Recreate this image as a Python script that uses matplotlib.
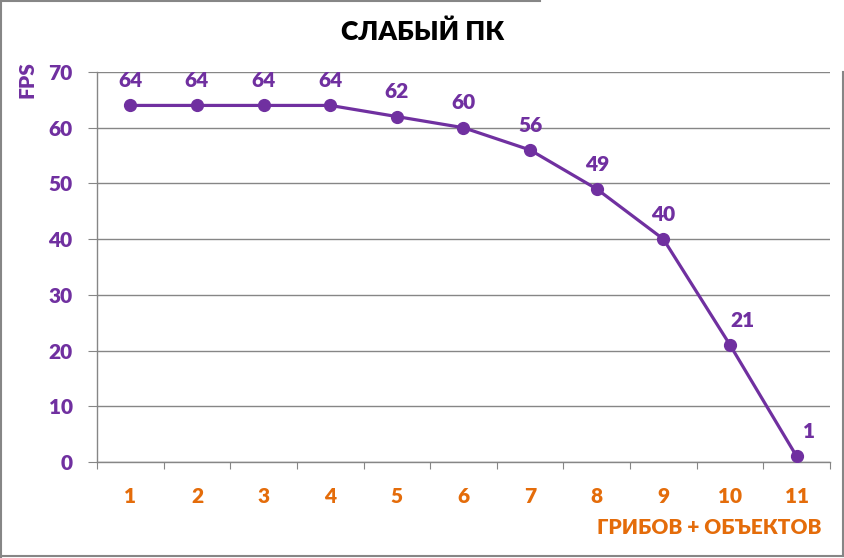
import matplotlib.pyplot as plt
from matplotlib.lines import Line2D

# chart data
categories = ['1', '2', '3', '4', '5', '6', '7', '8', '9', '10', '11']
fps = [64, 64, 64, 64, 62, 60, 56, 49, 40, 21, 1]
y_ticks = [0, 10, 20, 30, 40, 50, 60, 70]

purple = '#7030A0'
orange = '#E46C0A'
grid_col = '#868686'
bold = 'heavy'

plt.rcParams['font.family'] = ['Lato', 'DejaVu Sans']

fig = plt.figure(figsize=(8.45, 5.58), dpi=100)
ax = fig.add_axes([97 / 845, 1 - 462 / 558, 733 / 845, 390 / 558])

x = list(range(len(categories)))
ax.plot(x, fps, color=purple, lw=2.3, marker='o', ms=8.5, zorder=3)
for xi, v in zip(x, fps):
    # the last two labels are nudged right, as in the original
    dx = 9 if xi >= len(categories) - 2 else 0
    ax.annotate(str(v), (xi, v), xytext=(dx, 11), textcoords='offset points',
                ha='center', va='bottom', color=purple, fontsize=15, fontweight=bold)

ax.set_xlim(-0.5, len(categories) - 0.5)
ax.set_ylim(0, 70)
ax.set_yticks(y_ticks)
ax.set_yticklabels([str(t) for t in y_ticks])
ax.yaxis.grid(True, color=grid_col, lw=1)
ax.set_axisbelow(True)

# x ticks between categories, labels at centers
ax.set_xticks([i - 0.5 for i in range(len(categories) + 1)])
ax.set_xticklabels([])
ax.set_xticks(x, minor=True)
ax.set_xticklabels(categories, minor=True)
ax.tick_params(axis='x', which='major', length=5, color=grid_col, direction='out')
ax.tick_params(axis='x', which='minor', length=0, pad=18, labelsize=15,
               labelcolor=orange)
for lab in ax.get_xticklabels(minor=True):
    lab.set_fontweight(bold)
ax.tick_params(axis='y', length=6.5, color=grid_col, pad=11, labelsize=15,
               labelcolor=purple)
for lab in ax.get_yticklabels():
    lab.set_fontweight(bold)

for s in ['top', 'right']:
    ax.spines[s].set_visible(False)
for s in ['left', 'bottom']:
    ax.spines[s].set_color(grid_col)
    ax.spines[s].set_linewidth(1)

fig.text(423 / 845, 1 - 32 / 558, 'СЛАБЫЙ ПК', ha='center', va='center',
         fontsize=19, fontweight=bold, color='black')
fig.text(27 / 845, 1 - 80 / 558, 'FPS', ha='center', va='center', rotation=90,
         fontsize=15, fontweight=bold, color=purple)
fig.text(822 / 845, 1 - 527 / 558, 'ГРИБОВ + ОБЪЕКТОВ', ha='right', va='center',
         fontsize=15, fontweight=bold, color=orange)

# outer frame pieces
fr = dict(color=grid_col, lw=1.5, transform=fig.transFigure)
fig.add_artist(Line2D([0.001, 540 / 845], [1 - 1 / 558, 1 - 1 / 558], **fr))
fig.add_artist(Line2D([0.001, 0.001], [1 - 1 / 558, 1 / 558], **fr))
fig.add_artist(Line2D([0.001, 843 / 845], [2 / 558, 2 / 558], **fr))
fig.add_artist(Line2D([843 / 845, 843 / 845], [2 / 558, 1 - 72 / 558], **fr))

fig.savefig('out.png', dpi=100)
